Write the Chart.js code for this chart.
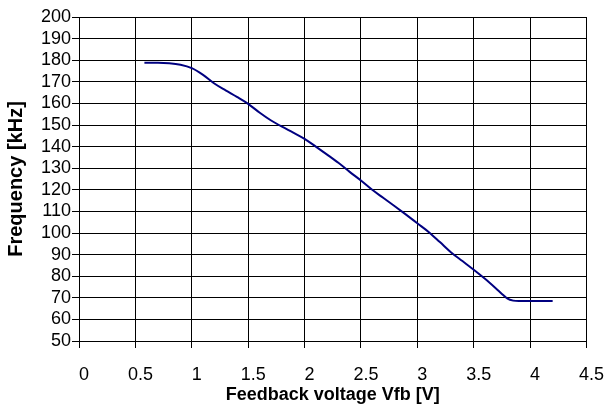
<!DOCTYPE html>
<html>
<head>
<meta charset="utf-8">
<script src="https://cdn.jsdelivr.net/npm/chart.js@4"></script>
<style>
  html, body { margin: 0; padding: 0; background: #fff; }
  #wrap { width: 615px; height: 408px; }
</style>
</head>
<body>
<div id="wrap"><canvas id="c" width="615" height="408"></canvas></div>
<script>
// Data
const voltage = [0.58, 0.7, 0.8, 0.9, 1.0, 1.1, 1.2, 1.3, 1.4, 1.5, 1.6, 1.7, 1.8, 1.9, 2.0, 2.1, 2.2, 2.3, 2.4, 2.5, 2.6, 2.7, 2.8, 2.9, 3.0, 3.1, 3.2, 3.3, 3.4, 3.5, 3.6, 3.7, 3.75, 3.8, 3.85, 3.9, 4.0, 4.1, 4.2];
const frequency = [178.8, 178.8, 178.6, 177.9, 176.3, 173.2, 169.2, 166.0, 163.0, 159.8, 155.8, 152.2, 149.2, 146.5, 143.6, 140.0, 136.3, 132.5, 128.3, 124.3, 120.0, 116.2, 112.4, 108.5, 104.5, 100.5, 95.8, 91.0, 87.0, 83.0, 78.8, 74.2, 71.8, 69.6, 68.7, 68.5, 68.5, 68.5, 68.5];
const xTickLabels = ['0', '0.5', '1', '1.5', '2', '2.5', '3', '3.5', '4', '4.5'];
const yTickLabels = ['50', '60', '70', '80', '90', '100', '110', '120', '130', '140', '150', '160', '170', '180', '190', '200'];
const xTitle = 'Feedback voltage Vfb [V]';
const yTitle = 'Frequency [kHz]';

const FONT = "'Liberation Sans', Arial, sans-serif";
const points = voltage.map((v, i) => ({ x: v, y: frequency[i] }));

new Chart(document.getElementById('c'), {
  type: 'line',
  data: {
    datasets: [{
      data: points,
      borderColor: '#000080',
      borderWidth: 2,
      pointRadius: 0,
      fill: false,
      cubicInterpolationMode: 'monotone'
    }]
  },
  options: {
    responsive: false,
    animation: false,
    devicePixelRatio: 1,
    layout: { padding: { left: 0, right: 20, top: 17, bottom: 0 } },
    plugins: { legend: { display: false }, tooltip: { enabled: false } },
    scales: {
      x: {
        type: 'linear',
        min: 0, max: 4.5,
        afterFit: s => { s.height = 67; },
        ticks: {
          stepSize: 0.5,
          autoSkip: false,
          maxRotation: 0,
          labelOffset: 5,
          padding: 16,
          color: '#000',
          font: { family: FONT, size: 18 },
          callback: (v, i) => xTickLabels[i]
        },
        grid: { color: '#000', lineWidth: 1, tickLength: 7, tickColor: '#000' },
        border: { color: '#000', width: 1 },
        title: {
          display: true, text: xTitle, color: '#000',
          font: { family: FONT, size: 18, weight: 'bold' },
          padding: { top: 0, bottom: 2 }
        }
      },
      y: {
        min: 50, max: 200,
        afterFit: s => { s.width = 79; },
        ticks: {
          stepSize: 10,
          autoSkip: false,
          padding: 1,
          color: '#000',
          font: { family: FONT, size: 18 },
          callback: (v, i) => yTickLabels[i]
        },
        grid: { color: '#000', lineWidth: 1, tickLength: 7, tickColor: '#000' },
        border: { color: '#000', width: 1 },
        title: {
          display: true, text: yTitle, color: '#000',
          font: { family: FONT, size: 20, weight: 'bold' },
          padding: { top: 4, bottom: 0 }
        }
      }
    }
  }
});
</script>
</body>
</html>
